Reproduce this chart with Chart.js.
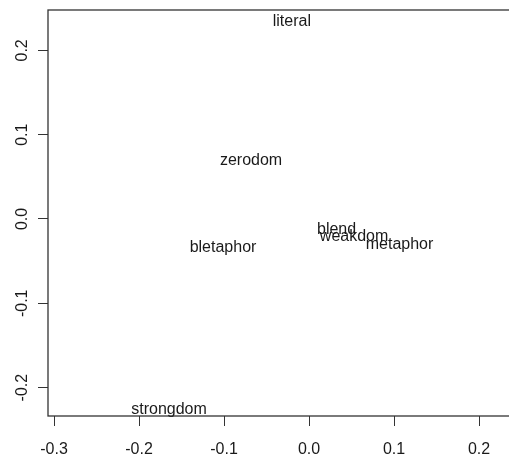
<!DOCTYPE html>
<html>
<head>
<meta charset="utf-8">
<script src="https://cdn.jsdelivr.net/npm/chart.js@4/dist/chart.umd.min.js"></script>
<style>
  html, body { margin: 0; padding: 0; background: #fff; overflow: hidden; }
  #wrap { width: 509px; height: 461px; overflow: hidden; }
  canvas { display: block; }
</style>
</head>
<body>
<div id="wrap"><canvas id="c" width="530" height="461"></canvas></div>
<script>
// Condition labels and their 2-D scaling coordinates
const conditions = ["literal", "zerodom", "bletaphor", "strongdom", "blend", "weakdom", "metaphor"];
const dim1 = [-0.0202, -0.0682, -0.1012, -0.1647, 0.0324, 0.0530, 0.1065];
const dim2 = [0.2369, 0.0716, -0.0320, -0.2234, -0.0102, -0.0180, -0.0280];

// Axis ticks
const xTicks = [-0.3, -0.2, -0.1, 0.0, 0.1, 0.2];
const yTicks = [-0.2, -0.1, 0.0, 0.1, 0.2];

const FONT = "'Liberation Sans', Arial, sans-serif";
const INK = "#1a1a1a";

// Text labels drawn at each point (R-style text() plot, vertically centred)
const textLabels = {
  id: "textLabels",
  afterDatasetsDraw(chart) {
    const ctx = chart.ctx;
    const meta = chart.getDatasetMeta(0);
    ctx.save();
    ctx.font = "16px " + FONT;
    ctx.fillStyle = INK;
    ctx.textAlign = "center";
    ctx.textBaseline = "alphabetic";
    meta.data.forEach((pt, i) => {
      ctx.fillText(conditions[i], pt.x, pt.y + 6.5);
    });
    ctx.restore();
  }
};

// Frame around the plotting region
const frame = {
  id: "frame",
  afterDraw(chart) {
    const a = chart.chartArea;
    const ctx = chart.ctx;
    ctx.save();
    ctx.strokeStyle = "#333";
    ctx.lineWidth = 1.3;
    ctx.strokeRect(a.left, a.top, a.right - a.left, a.bottom - a.top);
    ctx.restore();
  }
};

const points = dim1.map((x, i) => ({ x: x, y: dim2[i] }));

new Chart(document.getElementById("c"), {
  type: "scatter",
  data: {
    datasets: [{
      data: points,
      pointRadius: 0,
      pointHoverRadius: 0,
      showLine: false
    }]
  },
  options: {
    responsive: false,
    animation: false,
    devicePixelRatio: 1,
    layout: { padding: { top: 10, right: 8.5, left: 0, bottom: 0 } },
    plugins: { legend: { display: false }, tooltip: { enabled: false } },
    events: [],
    scales: {
      x: {
        type: "linear",
        min: -0.3071,
        max: 0.25,
        afterBuildTicks(scale) { scale.ticks = xTicks.map(v => ({ value: v })); },
        afterFit(scale) {
          scale.height = 45;
          scale.paddingLeft = 0;
          scale.paddingRight = 0;
        },
        border: { display: false },
        grid: { drawOnChartArea: false, drawTicks: true, tickLength: 10, color: "#333", lineWidth: 1 },
        ticks: {
          padding: 14,
          color: INK,
          font: { family: FONT, size: 16 },
          maxRotation: 0,
          autoSkip: false,
          callback: v => v.toFixed(1)
        }
      },
      y: {
        type: "linear",
        min: -0.2337,
        max: 0.2479,
        afterBuildTicks(scale) { scale.ticks = yTicks.map(v => ({ value: v })); },
        afterFit(scale) {
          scale.width = 48;
          scale.paddingTop = 0;
          scale.paddingBottom = 0;
        },
        border: { display: false },
        grid: { drawOnChartArea: false, drawTicks: true, tickLength: 10, color: "#333", lineWidth: 1 },
        ticks: {
          padding: 2,
          color: INK,
          font: { family: FONT, size: 16 },
          minRotation: 90,
          maxRotation: 90,
          crossAlign: "center",
          autoSkip: false,
          callback: v => v.toFixed(1)
        }
      }
    }
  },
  plugins: [textLabels, frame]
});
</script>
</body>
</html>
